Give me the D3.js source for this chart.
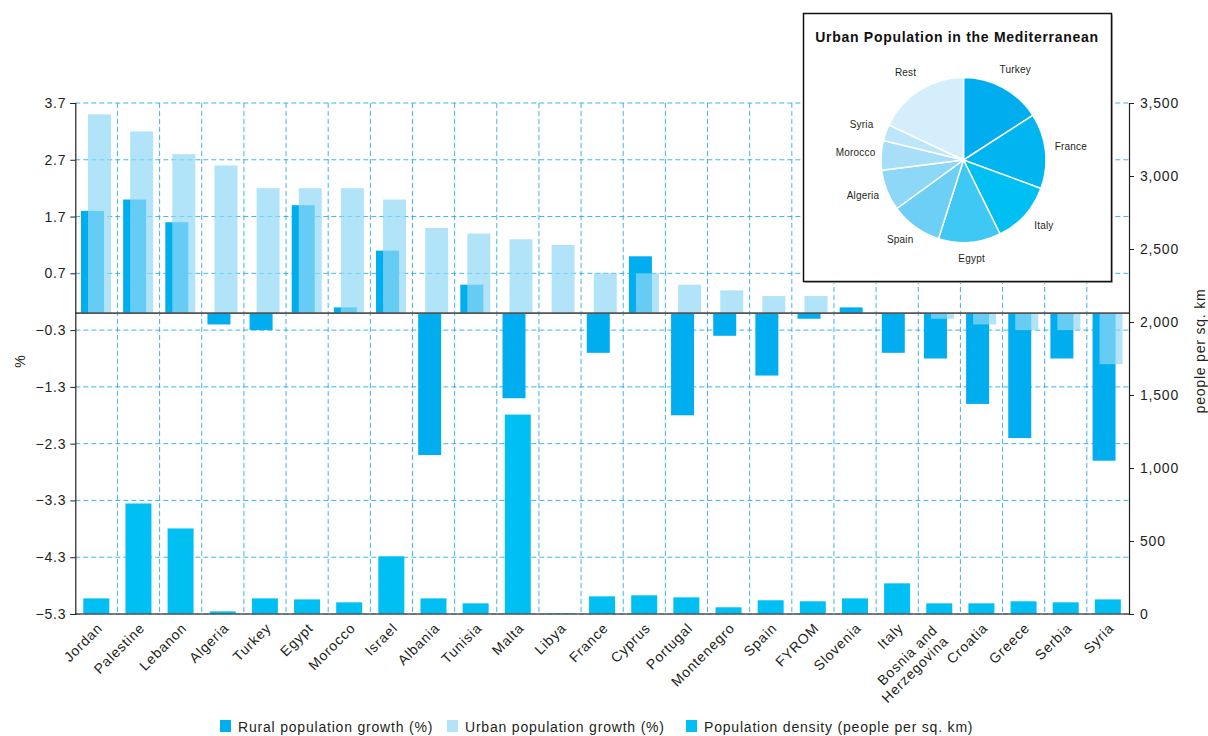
<!DOCTYPE html>
<html>
<head>
<meta charset="utf-8">
<script src="https://cdn.jsdelivr.net/npm/d3@7"></script>
<style>
  html, body { margin: 0; padding: 0; background: #fff; }
  svg { display: block; font-family: "Liberation Sans", Arial, Helvetica, sans-serif; }
  svg text { letter-spacing: 0.8px; }
  svg text.pl { letter-spacing: 0.2px; }
</style>
</head>
<body>
<svg id="chart" width="1208" height="736"></svg>
<script>
// ---------- DATA ----------
const categories = ["Jordan","Palestine","Lebanon","Algeria","Turkey","Egypt","Morocco","Israel","Albania","Tunisia","Malta","Libya","France","Cyprus","Portugal","Montenegro","Spain","FYROM","Slovenia","Italy","Bosnia and Herzegovina","Croatia","Greece","Serbia","Syria"];
const ruralGrowth = [1.8, 2.0, 1.6, -0.2, -0.3, 1.9, 0.1, 1.1, -2.5, 0.5, -1.5, 0, -0.7, 1.0, -1.8, -0.4, -1.1, -0.1, 0.1, -0.7, -0.8, -1.6, -2.2, -0.8, -2.6];
const urbanGrowth = [3.5, 3.2, 2.8, 2.6, 2.2, 2.2, 2.2, 2.0, 1.5, 1.4, 1.3, 1.2, 0.7, 0.7, 0.5, 0.4, 0.3, 0.3, 0, 0, -0.1, -0.2, -0.3, -0.3, -0.9];
const density = [107, 757, 586, 18, 107, 100, 80, 395, 107, 73, 1366, 5, 121, 128, 114, 46, 94, 87, 107, 210, 73, 73, 87, 80, 100];
const leftTicks = [3.7, 2.7, 1.7, 0.7, -0.3, -1.3, -2.3, -3.3, -4.3, -5.3];
const rightTicks = [0, 500, 1000, 1500, 2000, 2500, 3000, 3500];
const seriesNames = ["Rural population growth (%)", "Urban population growth (%)", "Population density (people per sq. km)"];
const pieTitle = "Urban Population in the Mediterranean";
const pieLabels = ["Turkey","France","Italy","Egypt","Spain","Algeria","Morocco","Syria","Rest"];
const pieValues = [15.9, 14.7, 12.1, 12.2, 10.1, 8.0, 5.8, 3.2, 18.0];
const pieColors = ["#00aeef","#00b5f0","#00c0f3","#40c8f4","#6dcff6","#8dd7f7","#a7dff8","#bde6fa","#d4eefb"];

// ---------- STYLE ----------
const C_RURAL = "#00aeef", C_URBAN = "rgb(146,217,246)", C_DENS = "#00bff3";
const GRID = "#1fa9e4", TXT = "#231f20";
const L = 75.3, R = 1129, T = 103, B = 614;

const svg = d3.select("#chart");
const x = d3.scaleBand().domain(categories).range([L, R]).padding(0);
const yL = d3.scaleLinear().domain([-5.3, 3.7]).range([B, T]);
const yR = d3.scaleLinear().domain([0, 3500]).range([B, T]);
const bw = x.bandwidth();

// grid
const grid = svg.append("g");
grid.selectAll("line.h").data(leftTicks).join("line")
  .attr("x1", L).attr("x2", R).attr("y1", d => yL(d)).attr("y2", d => yL(d))
  .attr("stroke", GRID).attr("stroke-width", 1).attr("stroke-dasharray", "5,3").attr("opacity", 0.85);
grid.selectAll("line.v").data(categories.slice(1)).join("line")
  .attr("x1", d => x(d)).attr("x2", d => x(d)).attr("y1", T).attr("y2", B)
  .attr("stroke", GRID).attr("stroke-width", 1).attr("stroke-dasharray", "5,3").attr("opacity", 0.85);

// density bars
svg.append("g").selectAll("rect").data(categories).join("rect")
  .attr("x", d => x(d) + 8).attr("width", 26)
  .attr("y", (d, i) => yR(density[i])).attr("height", (d, i) => B - yR(density[i]))
  .attr("fill", C_DENS);

// rural bars
svg.append("g").selectAll("rect").data(categories).join("rect")
  .attr("x", d => x(d) + 5.7).attr("width", 23)
  .attr("y", (d, i) => yL(Math.max(0, ruralGrowth[i])))
  .attr("height", (d, i) => Math.abs(yL(ruralGrowth[i]) - yL(0)))
  .attr("fill", C_RURAL);

// urban bars
svg.append("g").selectAll("rect").data(categories).join("rect")
  .attr("x", d => x(d) + 12.7).attr("width", 23)
  .attr("y", (d, i) => yL(Math.max(0, urbanGrowth[i])))
  .attr("height", (d, i) => Math.abs(yL(urbanGrowth[i]) - yL(0)))
  .attr("fill", C_URBAN).attr("fill-opacity", 0.7);

// zero line & bottom line
svg.append("line").attr("x1", L).attr("x2", R).attr("y1", yL(0)).attr("y2", yL(0))
  .attr("stroke", "#555").attr("stroke-width", 1.6);
svg.append("line").attr("x1", L).attr("x2", R).attr("y1", B).attr("y2", B)
  .attr("stroke", "#555").attr("stroke-width", 1.6);

// axes
const axL = svg.append("g").attr("transform", `translate(${L},0)`)
  .call(d3.axisLeft(yL).tickValues(leftTicks).tickFormat(d3.format(".1f")).tickSize(5).tickPadding(4));
const axR = svg.append("g").attr("transform", `translate(${R},0)`)
  .call(d3.axisRight(yR).tickValues(rightTicks).tickFormat(d3.format(",")).tickSize(5).tickPadding(6));
[axL, axR].forEach(a => {
  a.select(".domain").attr("stroke", "#222").attr("stroke-width", 1.2);
  a.selectAll(".tick line").attr("stroke", "#222");
  a.selectAll(".tick text").attr("fill", TXT).style("font-size", "14px")
    .style("font-family", '"Liberation Sans", Arial, sans-serif');
});

// axis titles
svg.append("text").attr("transform", "translate(25,361) rotate(-90)")
  .attr("text-anchor", "middle").attr("fill", TXT).style("font-size", "14px").text("%");
svg.append("text").attr("transform", "translate(1205,351) rotate(-90)")
  .attr("text-anchor", "middle").attr("fill", TXT).style("font-size", "14px").text("people per sq. km");

// x labels
const xl = svg.append("g");
categories.forEach(c => {
  const cx = x(c) + bw / 2;
  const multi = c === "Bosnia and Herzegovina";
  const t = xl.append("text")
    .attr("transform", multi ? `translate(${cx + 4},636) rotate(-45)` : `translate(${cx + 7},629) rotate(-45)`)
    .attr("text-anchor", "end").attr("fill", TXT).style("font-size", "14px");
  if (multi) {
    t.append("tspan").attr("x", 0).attr("dy", "-0.5em").text("Bosnia and");
    t.append("tspan").attr("x", 0).attr("dy", "1.1em").text("Herzegovina");
  } else {
    t.text(c);
  }
});

// legend
const legX = [220, 447, 686];
const legC = [C_RURAL, "#b3e3f7", C_DENS];
const leg = svg.append("g");
seriesNames.forEach((n, i) => {
  leg.append("rect").attr("x", legX[i]).attr("y", 720).attr("width", 11).attr("height", 12).attr("fill", legC[i]);
  leg.append("text").attr("x", legX[i] + 18).attr("y", 731.5).attr("fill", TXT)
    .style("font-size", "14px").text(n);
});

// ---------- PIE INSET ----------
const inset = svg.append("g");
inset.append("rect").attr("x", 805).attr("y", 15).attr("width", 308).attr("height", 268).attr("fill", "#bbb");
inset.append("rect").attr("x", 803.5).attr("y", 13.5).attr("width", 308).attr("height", 268)
  .attr("fill", "#fff").attr("stroke", "#111").attr("stroke-width", 1.5);
inset.append("text").attr("x", 957).attr("y", 42).attr("text-anchor", "middle")
  .attr("fill", "#111").style("font-size", "14px").style("font-weight", "bold")
  .style("letter-spacing", "0.7px").text(pieTitle);

const pcx = 963.5, pcy = 160, pr = 82.5;
const pie = d3.pie().sort(null).value(d => d)(pieValues);
const arc = d3.arc().innerRadius(0).outerRadius(pr);
const labArc = d3.arc().innerRadius(101).outerRadius(101);
const pg = inset.append("g").attr("transform", `translate(${pcx},${pcy})`);
pg.selectAll("path").data(pie).join("path")
  .attr("d", arc).attr("fill", (d, i) => pieColors[i])
  .attr("stroke", "#fff").attr("stroke-width", 1.5);
pg.selectAll("text").data(pie).join("text")
  .attr("class", "pl")
  .attr("transform", d => { const c = labArc.centroid(d); return `translate(${c[0] * 1.07},${c[1] - 2})`; })
  .attr("text-anchor", "middle").attr("dy", "0.35em")
  .attr("fill", TXT).style("font-size", "10px")
  .text((d, i) => pieLabels[i]);
</script>
</body>
</html>
